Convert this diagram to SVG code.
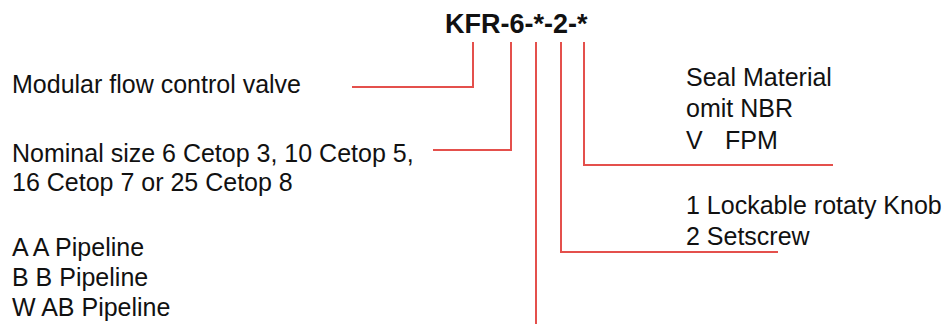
<svg xmlns="http://www.w3.org/2000/svg" width="942" height="325" viewBox="0 0 942 325">
<style>
.t{font-family:"Liberation Sans",Arial,sans-serif;font-size:25px;fill:#111}
.h{font-family:"Liberation Sans",Arial,sans-serif;font-size:27px;font-weight:bold;fill:#111}
.c{fill:none;stroke:#e4504c;stroke-width:2}
</style>
<rect width="942" height="325" fill="#fff"/>
<g id="title"><text class="h" x="445" y="33">KFR-6-*-2-*</text></g>
<g id="type"><text class="t" x="12" y="93">Modular flow control valve</text></g>
<g id="size"><text class="t" x="12" y="162">Nominal size 6 Cetop 3, 10 Cetop 5,</text><text class="t" x="12" y="191">16 Cetop 7 or 25 Cetop 8</text></g>
<g id="pipeline"><text class="t" x="12" y="256">A A Pipeline</text><text class="t" x="12" y="286">B B Pipeline</text><text class="t" x="12" y="316">W AB Pipeline</text></g>
<g id="seal"><text class="t" x="686" y="86">Seal Material</text><text class="t" x="686" y="117">omit NBR</text><text class="t" x="686" y="149">V</text><text class="t" x="725" y="149">FPM</text></g>
<g id="adjust"><text class="t" x="686" y="214">1 Lockable rotaty Knob</text><text class="t" x="686" y="245">2 Setscrew</text></g>
<g id="connectors">
<polyline class="c" points="352,87 473,87 473,42"/>
<polyline class="c" points="433,150 511,150 511,42"/>
<polyline class="c" points="536,42 536,324"/>
<polyline class="c" points="778,252 561,252 561,42"/>
<polyline class="c" points="833,165 584,165 584,42"/>
</g>
</svg>
